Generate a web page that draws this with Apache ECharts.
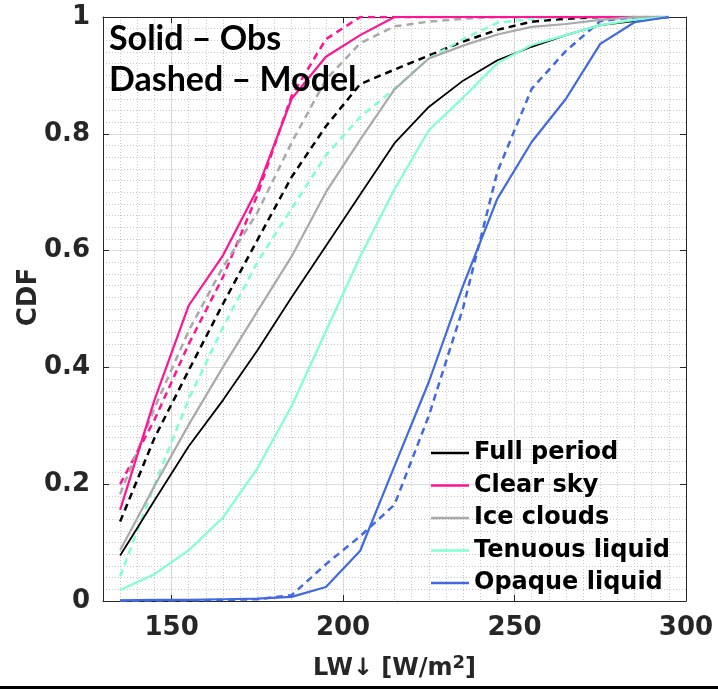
<!DOCTYPE html>
<html>
<head>
<meta charset="utf-8">
<script src="https://cdn.jsdelivr.net/npm/echarts@6/dist/echarts.min.js"></script>
<style>
  html, body { margin: 0; padding: 0; background: #fff; }
  #chart { width: 718px; height: 689px; }
</style>
</head>
<body>
<div id="chart"></div>
<script>
// Bin centres of downwelling longwave flux [W/m2]
const lwBins = [135, 145, 155, 165, 175, 185, 195, 205, 215, 225, 235, 245, 255, 265, 275, 285, 295];

// Cumulative distributions, observations (solid) and model (dashed)
const fullObs    = [0.078, 0.172, 0.265, 0.344, 0.429, 0.520, 0.608, 0.696, 0.784, 0.846, 0.891, 0.926, 0.949, 0.969, 0.986, 0.993, 1.000];
const fullModel  = [0.136, 0.279, 0.395, 0.509, 0.618, 0.726, 0.813, 0.885, 0.910, 0.934, 0.958, 0.978, 0.992, 0.997, 1.000, 1.000, 1.000];
const clearObs   = [0.156, 0.344, 0.506, 0.592, 0.705, 0.860, 0.932, 0.969, 1.000, 1.000, 1.000, 1.000, 1.000, 1.000, 1.000, 1.000, 1.000];
const clearModel = [0.200, 0.310, 0.440, 0.555, 0.695, 0.865, 0.962, 1.000, 1.000, 1.000, 1.000, 1.000, 1.000, 1.000, 1.000, 1.000, 1.000];
const iceObs     = [0.087, 0.197, 0.302, 0.401, 0.496, 0.590, 0.700, 0.790, 0.876, 0.929, 0.951, 0.970, 0.983, 0.988, 0.995, 1.000, 1.000];
const iceModel   = [0.183, 0.330, 0.463, 0.572, 0.665, 0.785, 0.893, 0.955, 0.984, 0.992, 0.997, 1.000, 1.000, 1.000, 1.000, 1.000, 1.000];
const tenObs     = [0.019, 0.046, 0.087, 0.143, 0.227, 0.334, 0.462, 0.590, 0.705, 0.806, 0.862, 0.921, 0.952, 0.969, 0.986, 0.995, 1.000];
const tenModel   = [0.042, 0.199, 0.346, 0.469, 0.580, 0.672, 0.763, 0.829, 0.877, 0.929, 0.962, 0.990, 0.997, 1.000, 1.000, 1.000, 1.000];
const opqObs     = [0.001, 0.002, 0.002, 0.003, 0.004, 0.007, 0.024, 0.086, 0.231, 0.375, 0.540, 0.689, 0.786, 0.860, 0.954, 0.991, 1.000];
const opqModel   = [0.000, 0.001, 0.001, 0.002, 0.003, 0.010, 0.063, 0.111, 0.165, 0.317, 0.502, 0.735, 0.877, 0.942, 0.993, 1.000, 1.000];

// Axis ticks
const xTickValues  = [150, 200, 250];
const xLabelValues = [150, 200, 250, 300];

const classes = [
  { name: 'Full period',    color: '#000000', obs: fullObs,  model: fullModel,  width: 1.8 },
  { name: 'Clear sky',      color: '#ff1493', obs: clearObs, model: clearModel, width: 2.2 },
  { name: 'Ice clouds',     color: '#a9a9a9', obs: iceObs,   model: iceModel,   width: 2.2 },
  { name: 'Tenuous liquid', color: '#7fffd4', obs: tenObs,   model: tenModel,   width: 2.2 },
  { name: 'Opaque liquid',  color: '#4169e1', obs: opqObs,   model: opqModel,   width: 2.2 }
];

const pairs = vals => lwBins.map((x, i) => [x, vals[i]]);

const FONT = 'DejaVu Sans';
const AXIS_COLOR = '#262626';
const GRID_MAJOR = '#dedede';
const GRID_MINOR = '#c8c8c8';

const series = [];
classes.forEach(c => {
  series.push({
    name: c.name, type: 'line', data: pairs(c.obs),
    showSymbol: false, symbol: 'none', animation: false,
    color: c.color,
    lineStyle: { color: c.color, width: c.width, type: 'solid' },
    z: 3
  });
});
classes.forEach(c => {
  series.push({
    name: c.name + ' (model)', type: 'line', data: pairs(c.model),
    showSymbol: false, symbol: 'none', animation: false,
    color: c.color,
    lineStyle: { color: c.color, width: 2.5, type: [7, 5] },
    z: 2
  });
});

const chart = echarts.init(document.getElementById('chart'), null, { renderer: 'canvas' });
chart.setOption({
  backgroundColor: '#ffffff',
  animation: false,
  grid: { left: 103, top: 17, width: 583, height: 584, containLabel: false },
  xAxis: [
    {
      type: 'value', position: 'bottom', min: 130, max: 300,
      axisLine: { show: true, onZero: false, lineStyle: { color: AXIS_COLOR, width: 1 } },
      axisTick: { show: true, inside: true, length: 6, customValues: xTickValues, lineStyle: { color: AXIS_COLOR } },
      axisLabel: { customValues: xLabelValues, fontSize: 26, fontWeight: 'bold', fontFamily: FONT, color: AXIS_COLOR, margin: 14 },
      splitLine: { show: true, lineStyle: { color: GRID_MAJOR, width: 1 } },
      name: '{n|LW↓ [W/m}{s|2}{n|]}',
      nameLocation: 'middle', nameGap: 53,
      nameTextStyle: {
        rich: {
          n: { fontSize: 24, fontWeight: 'bold', fontFamily: FONT, color: AXIS_COLOR, lineHeight: 30 },
          s: { fontSize: 18, fontWeight: 'bold', fontFamily: FONT, color: AXIS_COLOR, verticalAlign: 'top', lineHeight: 17 }
        }
      }
    },
    {
      type: 'value', position: 'top', min: 130, max: 300,
      axisLine: { show: true, onZero: false, lineStyle: { color: AXIS_COLOR, width: 1 } },
      axisTick: { show: true, inside: true, length: 6, customValues: xTickValues, lineStyle: { color: AXIS_COLOR } },
      axisLabel: { show: false },
      splitLine: { show: false }
    },
    {
      type: 'value', position: 'bottom', min: 130, max: 300, interval: 5,
      axisLine: { show: false }, axisTick: { show: false }, axisLabel: { show: false },
      splitLine: { show: true, lineStyle: { color: GRID_MINOR, width: 1, type: [1, 2] } }
    }
  ],
  yAxis: [
    {
      type: 'value', position: 'left', min: 0, max: 1, interval: 0.2,
      axisLine: { show: true, onZero: false, lineStyle: { color: AXIS_COLOR, width: 1 } },
      axisTick: { show: true, inside: true, length: 6, lineStyle: { color: AXIS_COLOR } },
      axisLabel: { fontSize: 26, fontWeight: 'bold', fontFamily: FONT, color: AXIS_COLOR, margin: 13 },
      splitLine: { show: true, lineStyle: { color: GRID_MAJOR, width: 1 } },
      minorTick: { show: false, splitNumber: 10 },
      minorSplitLine: { show: true, lineStyle: { color: GRID_MINOR, width: 1, type: [1, 2] } },
      name: 'CDF', nameLocation: 'middle', nameGap: 61, nameRotate: 90, nameMoveOverlap: false,
      nameTextStyle: { fontSize: 26, fontWeight: 'bold', fontFamily: FONT, color: AXIS_COLOR, padding: [0, 0, 0, 24] }
    },
    {
      type: 'value', position: 'right', min: 0, max: 1, interval: 0.2,
      axisLine: { show: true, onZero: false, lineStyle: { color: AXIS_COLOR, width: 1 } },
      axisTick: { show: true, inside: true, length: 6, lineStyle: { color: AXIS_COLOR } },
      axisLabel: { show: false },
      splitLine: { show: false }
    }
  ],
  legend: {
    data: classes.map(c => c.name),
    orient: 'vertical', left: 431, top: 441,
    icon: 'rect', itemWidth: 38, itemHeight: 2.5, itemGap: 8.5,
    textStyle: { fontSize: 24, fontWeight: 'bold', fontFamily: FONT, color: '#000', lineHeight: 24 },
    backgroundColor: 'transparent', borderWidth: 0, padding: 0,
    selectedMode: false
  },
  graphic: [
    { type: 'text', left: 109, top: 22, style: { text: 'Solid – Obs', font: 'bold 34px Lato', fill: '#000' }, z: 10 },
    { type: 'text', left: 109, top: 63, style: { text: 'Dashed – Model', font: 'bold 34px Lato', fill: '#000' }, z: 10 },
    { type: 'rect', left: 0, top: 686, shape: { width: 718, height: 3 }, style: { fill: '#000' } }
  ],
  series: series
});
</script>
</body>
</html>
